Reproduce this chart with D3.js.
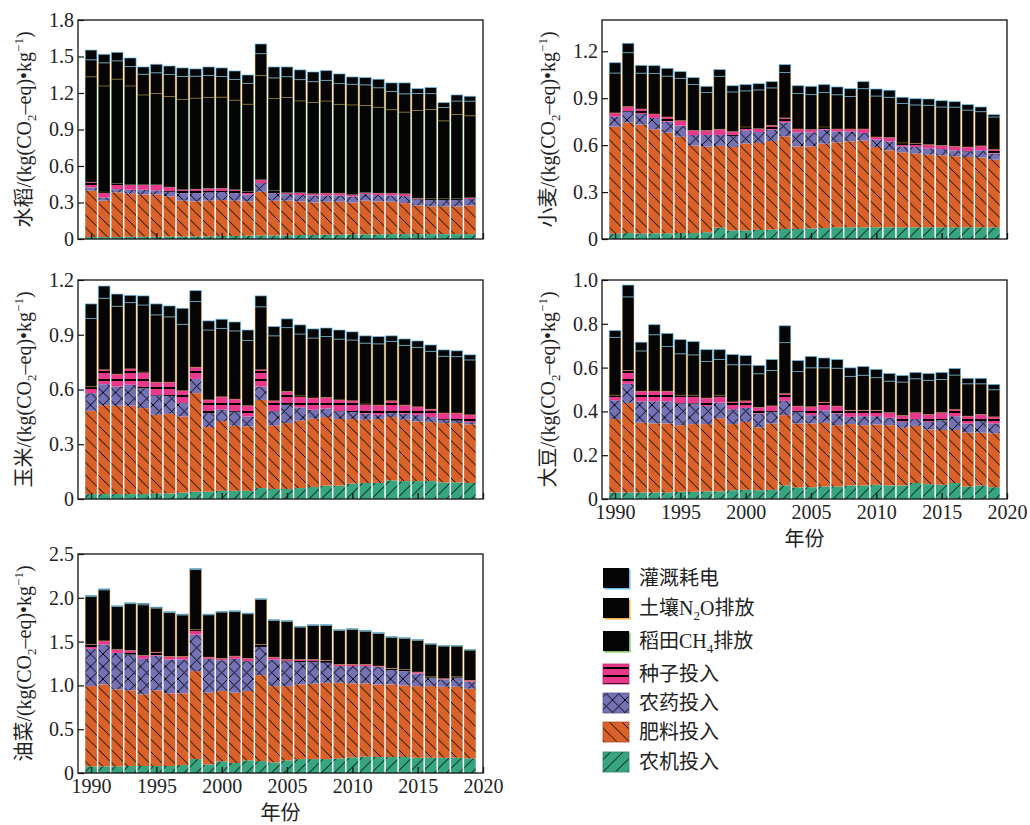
<!DOCTYPE html>
<html>
<head>
<meta charset="utf-8">
<script src="https://cdn.jsdelivr.net/npm/d3@7"></script>
<style>
  body { margin: 0; background: #fff; }
  text { font-family: "Liberation Serif", "Noto Sans CJK SC", serif; fill: #222; }
</style>
</head>
<body>
<svg id="chart" width="1030" height="825"></svg>
<script>
// ---- categories -------------------------------------------------------
const years = [1990,1991,1992,1993,1994,1995,1996,1997,1998,1999,
               2000,2001,2002,2003,2004,2005,2006,2007,2008,2009,
               2010,2011,2012,2013,2014,2015,2016,2017,2018,2019];
const yearTicks = [1990, 1995, 2000, 2005, 2010, 2015, 2020];

// ---- 水稻 (rice), kg CO2-eq per kg -------------------------------------
const riceMachinery  = [0.016,0.016,0.016,0.018,0.018,0.018,0.02,0.02,0.022,0.022,0.025,0.025,0.027,0.03,0.03,0.03,0.033,0.033,0.035,0.035,0.038,0.038,0.038,0.04,0.04,0.04,0.04,0.04,0.04,0.04];
const riceFertilizer = [0.381,0.299,0.367,0.354,0.348,0.348,0.33,0.295,0.287,0.293,0.295,0.29,0.282,0.358,0.285,0.285,0.276,0.267,0.271,0.271,0.262,0.277,0.271,0.266,0.255,0.236,0.228,0.228,0.228,0.236];
const ricePesticide  = [0.027,0.027,0.027,0.033,0.039,0.034,0.038,0.062,0.068,0.068,0.066,0.062,0.057,0.072,0.062,0.054,0.052,0.058,0.052,0.052,0.05,0.054,0.052,0.052,0.058,0.049,0.052,0.052,0.052,0.052];
const riceSeed       = [0.044,0.044,0.047,0.041,0.041,0.046,0.039,0.028,0.033,0.033,0.032,0.028,0.024,0.027,0.02,0.014,0.022,0.014,0.019,0.019,0.014,0.014,0.016,0.019,0.019,0.011,0.011,0.011,0.011,0.011];
const riceCH4        = [0.865,0.872,0.857,0.812,0.738,0.75,0.745,0.741,0.748,0.748,0.748,0.736,0.718,0.856,0.757,0.781,0.752,0.751,0.757,0.73,0.738,0.714,0.706,0.686,0.671,0.72,0.734,0.64,0.693,0.674];
const riceN2O        = [0.14,0.19,0.15,0.16,0.17,0.17,0.18,0.19,0.18,0.18,0.17,0.17,0.17,0.18,0.17,0.17,0.175,0.17,0.17,0.17,0.17,0.17,0.16,0.15,0.15,0.14,0.13,0.11,0.11,0.12];
const riceIrrigation = [0.08,0.07,0.07,0.07,0.06,0.07,0.07,0.07,0.06,0.07,0.07,0.07,0.07,0.08,0.09,0.08,0.08,0.08,0.08,0.08,0.06,0.06,0.07,0.07,0.09,0.04,0.05,0.04,0.05,0.04];

// ---- 小麦 (wheat) -------------------------------------------------------
const wheatMachinery  = [0.034,0.038,0.034,0.036,0.036,0.038,0.038,0.043,0.072,0.055,0.055,0.058,0.06,0.064,0.064,0.068,0.07,0.075,0.075,0.075,0.075,0.075,0.075,0.075,0.075,0.075,0.075,0.075,0.075,0.075];
const wheatFertilizer = [0.684,0.706,0.697,0.665,0.644,0.616,0.559,0.547,0.523,0.533,0.555,0.556,0.567,0.592,0.528,0.524,0.54,0.543,0.549,0.554,0.513,0.492,0.479,0.471,0.464,0.46,0.454,0.449,0.445,0.432];
const wheatPesticide  = [0.066,0.07,0.068,0.073,0.07,0.071,0.068,0.075,0.07,0.071,0.085,0.07,0.072,0.09,0.09,0.09,0.089,0.07,0.062,0.049,0.047,0.057,0.038,0.042,0.041,0.04,0.038,0.036,0.047,0.039];
const wheatSeed       = [0.022,0.032,0.032,0.025,0.03,0.032,0.028,0.028,0.036,0.027,0.021,0.021,0.026,0.028,0.021,0.017,0.017,0.015,0.017,0.025,0.017,0.024,0.022,0.022,0.023,0.022,0.025,0.028,0.028,0.025];
const wheatN2O        = [0.255,0.345,0.229,0.259,0.261,0.27,0.294,0.243,0.339,0.254,0.231,0.248,0.241,0.291,0.227,0.224,0.221,0.219,0.208,0.258,0.262,0.258,0.252,0.247,0.252,0.247,0.251,0.236,0.219,0.209];
const wheatIrrigation = [0.066,0.06,0.05,0.05,0.05,0.043,0.045,0.04,0.043,0.04,0.04,0.04,0.04,0.05,0.05,0.053,0.05,0.05,0.05,0.045,0.045,0.045,0.04,0.04,0.04,0.04,0.035,0.035,0.03,0.015];

// ---- 玉米 (maize) -------------------------------------------------------
const maizeMachinery  = [0.027,0.027,0.027,0.027,0.027,0.03,0.03,0.035,0.04,0.04,0.045,0.045,0.045,0.06,0.055,0.055,0.06,0.066,0.073,0.073,0.084,0.088,0.088,0.102,0.098,0.098,0.098,0.091,0.091,0.088];
const maizeFertilizer = [0.456,0.487,0.484,0.484,0.471,0.431,0.437,0.417,0.54,0.354,0.382,0.356,0.353,0.483,0.348,0.361,0.369,0.374,0.376,0.365,0.354,0.346,0.35,0.347,0.336,0.327,0.323,0.325,0.325,0.321];
const maizePesticide  = [0.097,0.115,0.105,0.115,0.109,0.106,0.098,0.073,0.078,0.077,0.062,0.077,0.054,0.073,0.077,0.1,0.073,0.049,0.047,0.042,0.038,0.033,0.023,0.022,0.033,0.036,0.028,0.018,0.013,0.012];
const maizeSeed       = [0.035,0.079,0.068,0.087,0.088,0.073,0.075,0.068,0.064,0.072,0.071,0.069,0.059,0.092,0.058,0.073,0.063,0.064,0.06,0.063,0.062,0.053,0.053,0.067,0.047,0.044,0.043,0.037,0.042,0.04];
const maizeN2O        = [0.374,0.392,0.372,0.363,0.368,0.369,0.358,0.364,0.36,0.383,0.375,0.374,0.357,0.345,0.356,0.35,0.339,0.329,0.334,0.333,0.333,0.334,0.336,0.326,0.328,0.326,0.317,0.311,0.309,0.301];
const maizeIrrigation = [0.08,0.067,0.067,0.04,0.05,0.06,0.06,0.088,0.06,0.05,0.05,0.049,0.058,0.06,0.051,0.048,0.05,0.05,0.047,0.05,0.045,0.04,0.04,0.03,0.035,0.035,0.035,0.035,0.032,0.028];

// ---- 大豆 (soybean) -----------------------------------------------------
const soyMachinery  = [0.03,0.03,0.03,0.03,0.03,0.033,0.033,0.035,0.035,0.04,0.042,0.04,0.042,0.062,0.053,0.054,0.057,0.057,0.062,0.062,0.065,0.062,0.062,0.073,0.068,0.065,0.073,0.057,0.062,0.054];
const soyFertilizer = [0.335,0.409,0.318,0.315,0.315,0.304,0.309,0.307,0.334,0.302,0.31,0.287,0.303,0.321,0.292,0.291,0.291,0.28,0.28,0.275,0.275,0.275,0.263,0.261,0.25,0.25,0.242,0.246,0.241,0.246];
const soyPesticide  = [0.086,0.087,0.098,0.101,0.101,0.099,0.094,0.083,0.071,0.068,0.064,0.063,0.053,0.065,0.053,0.038,0.057,0.053,0.033,0.041,0.038,0.034,0.027,0.031,0.034,0.045,0.063,0.042,0.053,0.045];
const soySeed       = [0.023,0.061,0.046,0.046,0.046,0.038,0.038,0.036,0.034,0.033,0.032,0.028,0.027,0.033,0.026,0.038,0.037,0.034,0.03,0.027,0.027,0.024,0.029,0.031,0.034,0.035,0.03,0.033,0.03,0.03];
const soyN2O        = [0.264,0.336,0.184,0.258,0.204,0.189,0.184,0.167,0.163,0.17,0.165,0.154,0.162,0.233,0.158,0.178,0.157,0.173,0.155,0.16,0.149,0.143,0.153,0.153,0.156,0.151,0.158,0.148,0.14,0.124];
const soyIrrigation = [0.031,0.054,0.04,0.046,0.06,0.065,0.061,0.054,0.045,0.047,0.042,0.038,0.05,0.077,0.05,0.052,0.045,0.04,0.039,0.04,0.038,0.035,0.03,0.029,0.031,0.032,0.03,0.025,0.025,0.024];

// ---- 油菜 (rapeseed) ----------------------------------------------------
const rapeMachinery  = [0.076,0.076,0.076,0.08,0.08,0.08,0.08,0.091,0.159,0.098,0.133,0.114,0.144,0.136,0.121,0.144,0.159,0.159,0.159,0.167,0.178,0.186,0.182,0.182,0.182,0.174,0.174,0.174,0.174,0.167];
const rapeFertilizer = [0.916,0.935,0.879,0.863,0.818,0.863,0.829,0.818,1.004,0.819,0.803,0.803,0.792,0.981,0.871,0.848,0.852,0.86,0.871,0.863,0.845,0.837,0.829,0.829,0.818,0.818,0.818,0.811,0.811,0.795];
const rapePesticide  = [0.425,0.455,0.416,0.409,0.405,0.398,0.386,0.386,0.417,0.386,0.352,0.386,0.341,0.322,0.303,0.285,0.254,0.25,0.228,0.19,0.197,0.197,0.201,0.163,0.163,0.144,0.095,0.083,0.102,0.08];
const rapeSeed       = [0.049,0.042,0.038,0.046,0.038,0.038,0.035,0.035,0.056,0.019,0.019,0.03,0.03,0.027,0.027,0.018,0.03,0.026,0.026,0.019,0.019,0.019,0.008,0.019,0.019,0.016,0.011,0.012,0.011,0.015];
const rapeN2O        = [0.549,0.583,0.492,0.535,0.579,0.504,0.501,0.474,0.686,0.484,0.53,0.509,0.511,0.515,0.42,0.436,0.371,0.39,0.401,0.389,0.401,0.38,0.374,0.356,0.355,0.363,0.373,0.369,0.351,0.346];
const rapeIrrigation = [0.012,0.011,0.008,0.01,0.016,0.011,0.01,0.01,0.011,0.008,0.008,0.01,0.008,0.008,0.008,0.008,0.008,0.008,0.008,0.008,0.008,0.01,0.008,0.008,0.008,0.008,0.006,0.006,0.006,0.006];

// ---- y tick labels per crop --------------------------------------------
const riceTicks  = ["0","0.3","0.6","0.9","1.2","1.5","1.8"];
const wheatTicks = ["0","0.3","0.6","0.9","1.2"];
const maizeTicks = ["0","0.3","0.6","0.9","1.2"];
const soyTicks   = ["0","0.2","0.4","0.6","0.8","1.0"];
const rapeTicks  = ["0","0.5","1.0","1.5","2.0","2.5"];

// ---- series appearance (stack order bottom -> top) ----------------------
const seriesKeys = ["machinery","fertilizer","pesticide","seed","ch4","n2o","irrigation"];
const seriesStyle = {
  machinery:  { label: "农机投入", fill: "#37a57f", hatch: "fwd" },
  fertilizer: { label: "肥料投入", fill: "#d9622b", hatch: "back" },
  pesticide:  { label: "农药投入", fill: "#7472b5", hatch: "cross" },
  seed:       { label: "种子投入", fill: "#e8388c", hatch: "horiz" },
  ch4:        { label: ["稻田CH", "4", "排放"], fill: "#050505", edge: "#7fc05a", edgeOpacity: 0.3 },
  n2o:        { label: ["土壤N", "2", "O排放"], fill: "#050505", edge: "#f2b13c", edgeOpacity: 0.45 },
  irrigation: { label: "灌溉耗电", fill: "#050505", edge: "#6cc0ee", edgeOpacity: 0.75 }
};

const svg = d3.select("#chart");
const defs = svg.append("defs");

// hatch patterns (aliased, like a raster hatch)
function hatchPattern(key) {
  const st = seriesStyle[key];
  const s = st.hatch === "horiz" ? 8 : 12.5;
  const p = defs.append("pattern")
    .attr("id", "hatch-" + key)
    .attr("patternUnits", "userSpaceOnUse")
    .attr("width", s).attr("height", s);
  p.append("rect").attr("width", s).attr("height", s).attr("fill", st.fill);
  let d = "";
  if (st.hatch === "back") d = `M-1,-1L${s+1},${s+1}M-1,${s-1}L1,${s+1}M${s-1},-1L${s+1},1`;
  if (st.hatch === "fwd")  d = `M-1,${s+1}L${s+1},-1M-1,1L1,-1M${s-1},${s+1}L${s+1},${s-1}`;
  if (st.hatch === "cross") d = `M0,0L${s},${s}M0,${s}L${s},0`;
  if (st.hatch === "horiz") d = `M0,${s/2}L${s},${s/2}`;
  p.append("path").attr("d", d).attr("stroke", "#000").attr("stroke-width", 1.2)
    .attr("fill", "none").attr("shape-rendering", "crispEdges");
}
seriesKeys.filter(k => seriesStyle[k].hatch).forEach(hatchPattern);

function fillFor(key) {
  return seriesStyle[key].hatch ? `url(#hatch-${key})` : seriesStyle[key].fill;
}

// panels
const panels = [
  { name: "水稻", max: 1.8, tickLabels: riceTicks, x0: 78, y0: 20, showYears: false,
    series: { machinery: riceMachinery, fertilizer: riceFertilizer, pesticide: ricePesticide, seed: riceSeed,
              ch4: riceCH4, n2o: riceN2O, irrigation: riceIrrigation } },
  { name: "小麦", max: 1.4, tickLabels: wheatTicks, x0: 602, y0: 20, showYears: false,
    series: { machinery: wheatMachinery, fertilizer: wheatFertilizer, pesticide: wheatPesticide, seed: wheatSeed,
              n2o: wheatN2O, irrigation: wheatIrrigation } },
  { name: "玉米", max: 1.2, tickLabels: maizeTicks, x0: 78, y0: 280, showYears: false,
    series: { machinery: maizeMachinery, fertilizer: maizeFertilizer, pesticide: maizePesticide, seed: maizeSeed,
              n2o: maizeN2O, irrigation: maizeIrrigation } },
  { name: "大豆", max: 1.0, tickLabels: soyTicks, x0: 602, y0: 280, showYears: true,
    series: { machinery: soyMachinery, fertilizer: soyFertilizer, pesticide: soyPesticide, seed: soySeed,
              n2o: soyN2O, irrigation: soyIrrigation } },
  { name: "油菜", max: 2.5, tickLabels: rapeTicks, x0: 78, y0: 554, showYears: true,
    series: { machinery: rapeMachinery, fertilizer: rapeFertilizer, pesticide: rapePesticide, seed: rapeSeed,
              n2o: rapeN2O, irrigation: rapeIrrigation } }
];

const plotW = 405, plotH = 219;

panels.forEach(panel => {
  const g = svg.append("g").attr("transform", `translate(${panel.x0},${panel.y0})`);
  const x = d3.scaleLinear().domain([1989, 2020]).range([0, plotW]);
  const y = d3.scaleLinear().domain([0, panel.max]).range([plotH, 0]);
  const bw = (x(1991) - x(1990)) * 0.89;

  const keys = seriesKeys.filter(k => panel.series[k]);
  const rows = years.map((yr, i) => {
    const r = { year: yr };
    keys.forEach(k => r[k] = panel.series[k][i]);
    return r;
  });
  const stacked = d3.stack().keys(keys)(rows);

  stacked.forEach(layer => {
    const st = seriesStyle[layer.key];
    g.append("g").selectAll("rect").data(layer).join("rect")
      .attr("x", d => x(d.data.year) - bw / 2)
      .attr("width", bw)
      .attr("y", d => y(d[1]))
      .attr("height", d => Math.max(0, y(d[0]) - y(d[1])))
      .attr("fill", fillFor(layer.key))
      .attr("stroke", st.edge || "none")
      .attr("stroke-opacity", st.edgeOpacity || 1)
      .attr("stroke-width", st.edge ? 0.9 : 0);
  });

  // frame
  g.append("rect").attr("width", plotW).attr("height", plotH)
    .attr("fill", "none").attr("stroke", "#111").attr("stroke-width", 1.3);

  // y axis, inward ticks
  const tickVals = panel.tickLabels.map(Number);
  const ya = g.append("g").call(
    d3.axisLeft(y).tickValues(tickVals).tickFormat((d, i) => panel.tickLabels[i])
      .tickSizeInner(-6).tickSizeOuter(0).tickPadding(4));
  ya.select(".domain").remove();
  ya.selectAll("line").attr("stroke", "#111").attr("stroke-width", 1.2);
  ya.selectAll("text").attr("font-size", 20).style("font-family", "Liberation Serif").attr("fill", "#222");

  // x axis with inward ticks
  const xa = g.append("g").attr("transform", `translate(0,${plotH})`).call(
    d3.axisBottom(x).tickValues(yearTicks)
      .tickFormat(d => panel.showYears ? d : "")
      .tickSizeInner(-6).tickSizeOuter(0).tickPadding(6));
  xa.select(".domain").remove();
  xa.selectAll("line").attr("stroke", "#111").attr("stroke-width", 1.3);
  xa.selectAll("text").attr("font-size", 20).style("font-family", "Liberation Serif").attr("fill", "#222");

  if (panel.showYears) {
    g.append("text").attr("x", plotW / 2).attr("y", plotH + 47)
      .attr("text-anchor", "middle").attr("font-size", 20).text("年份");
  }

  // y title: crop/(kg(CO2-eq)·kg-1)
  const t = g.append("text")
    .attr("transform", `translate(-47,${plotH / 2}) rotate(-90)`)
    .attr("text-anchor", "middle").attr("font-size", 20);
  t.append("tspan").text(panel.name + "/(kg(CO");
  t.append("tspan").attr("font-size", 13).attr("dy", 5).text("2");
  t.append("tspan").attr("dy", -5).text("–eq)•kg");
  t.append("tspan").attr("font-size", 13).attr("dy", -8).text("−1");
  t.append("tspan").attr("dy", 8).text(")");
});

// legend
const legendOrder = ["irrigation","n2o","ch4","seed","pesticide","fertilizer","machinery"];
const legendRows = [578, 608, 641, 674, 703, 732, 762];
const lg = svg.append("g");
legendOrder.forEach((k, i) => {
  const st = seriesStyle[k];
  const cy = legendRows[i];
  if (st.edge) {
    lg.append("rect").attr("x", 604.5).attr("y", cy - 8.5).attr("width", 26).attr("height", 20).attr("fill", st.edge);
    lg.append("rect").attr("x", 603).attr("y", cy - 10).attr("width", 26).attr("height", 20).attr("fill", st.fill);
  } else {
    lg.append("rect").attr("x", 603).attr("y", cy - 10).attr("width", 26).attr("height", 20)
      .attr("fill", fillFor(k)).attr("stroke", d3.color(st.fill).darker(0.6)).attr("stroke-width", 0.8);
  }
  const tx = lg.append("text").attr("x", 639).attr("y", cy + 7).attr("font-size", 20);
  if (Array.isArray(st.label)) {
    tx.append("tspan").text(st.label[0]);
    tx.append("tspan").attr("font-size", 13).attr("dy", 5).text(st.label[1]);
    tx.append("tspan").attr("dy", -5).text(st.label[2]);
  } else {
    tx.text(st.label);
  }
});
</script>
</body>
</html>
